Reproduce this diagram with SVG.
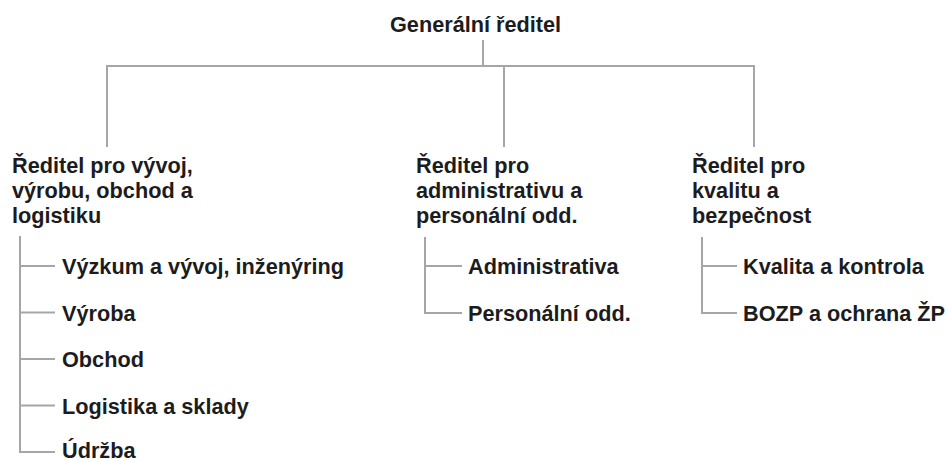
<svg xmlns="http://www.w3.org/2000/svg" width="948" height="461" viewBox="0 0 948 461">
<style>
text{font-family:"Liberation Sans",Arial,sans-serif;font-weight:bold;font-size:21.7px;fill:#1c1c1e}
.c{fill:none;stroke:#a6a6aa;stroke-width:2}
</style>
<rect width="948" height="461" fill="#ffffff"/>
<g id="connectors" class="c">
<path d="M483 40V66M107 147V66H754V147M504 66V147"/>
<path d="M20 236V452H55M20 266H55M20 312.5H55M20 359H55M20 405.5H55"/>
<path d="M425 237V313H462M425 266H462"/>
<path d="M702 237V313H737M702 266H737"/>
</g>
<g id="gen"><text x="390" y="32">Generální ředitel</text></g>
<g id="dir1"><text x="12" y="173">Ředitel pro vývoj,</text><text x="12" y="198">výrobu, obchod a</text><text x="12" y="223">logistiku</text></g>
<g id="dir2"><text x="416" y="173">Ředitel pro</text><text x="416" y="198">administrativu a</text><text x="416" y="223">personální odd.</text></g>
<g id="dir3"><text x="692" y="173">Ředitel pro</text><text x="692" y="198">kvalitu a</text><text x="692" y="223">bezpečnost</text></g>
<g id="n11"><text x="62" y="274">Výzkum a vývoj, inženýring</text></g>
<g id="n12"><text x="62" y="320.5">Výroba</text></g>
<g id="n13"><text x="62" y="367">Obchod</text></g>
<g id="n14"><text x="62" y="413.5">Logistika a sklady</text></g>
<g id="n15"><text x="62" y="458">Údržba</text></g>
<g id="n21"><text x="468" y="274">Administrativa</text></g>
<g id="n22"><text x="468" y="321">Personální odd.</text></g>
<g id="n31"><text x="743" y="274">Kvalita a kontrola</text></g>
<g id="n32"><text x="743" y="321">BOZP a ochrana ŽP</text></g>
</svg>
